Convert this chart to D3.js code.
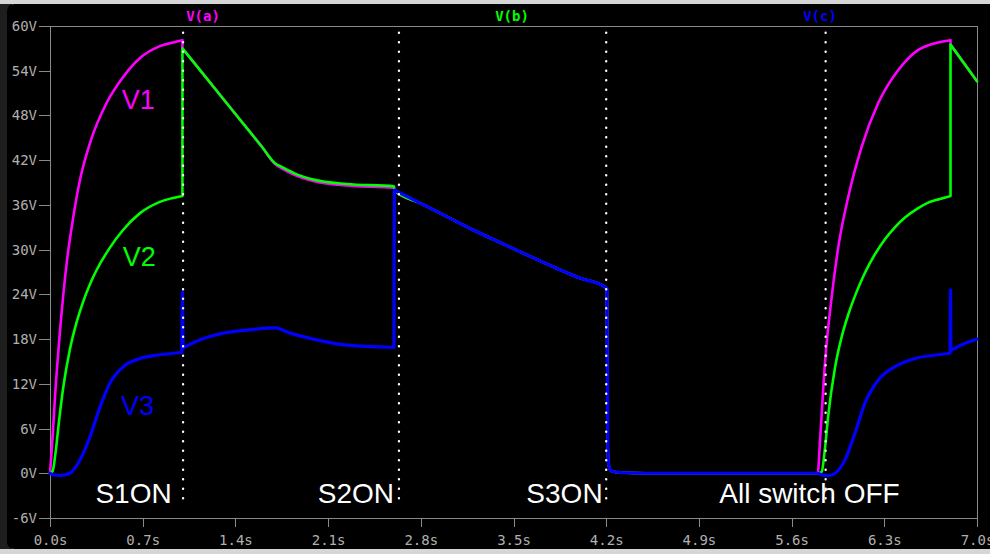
<!DOCTYPE html>
<html>
<head>
<meta charset="utf-8">
<script src="https://cdn.jsdelivr.net/npm/d3@7"></script>
<style>
  html, body { margin: 0; padding: 0; background: #d8d8d8; overflow: hidden; }
  svg { display: block; }
</style>
</head>
<body>
<svg id="chart" width="990" height="554"></svg>
<script>
// ---- Data -------------------------------------------------------------
const seriesNames = ["V(a)", "V(b)", "V(c)"];
const curveLabels = ["V1", "V2", "V3"];

const xTickValues = [0, 0.7, 1.4, 2.1, 2.8, 3.5, 4.2, 4.9, 5.6, 6.3, 7.0];
const xTickLabels = ["0.0s", "0.7s", "1.4s", "2.1s", "2.8s", "3.5s", "4.2s", "4.9s", "5.6s", "6.3s", "7.0s"];
const yTickValues = [-6, 0, 6, 12, 18, 24, 30, 36, 42, 48, 54, 60];
const yTickLabels = ["-6V", "0V", "6V", "12V", "18V", "24V", "30V", "36V", "42V", "48V", "54V", "60V"];

// switching events (s) and their captions
const switchTimes = [1.005, 2.635, 4.2, 5.857];
const switchLabels = ["S1ON", "S2ON", "S3ON", "All switch OFF"];

// segment shared by all three nodes once S2 closes (time s, volts)
const sharedTime = [2.6, 2.8, 3.0, 3.2, 3.4, 3.6, 3.8, 4.0, 4.19, 4.205, 4.212, 4.22, 4.24, 4.3, 4.5, 5.797];
const sharedVolt = [38.0, 36.2, 34.4, 32.6, 30.95, 29.3, 27.7, 26.2, 25.0, 24.7, 3.0, 1.0, 0.3, 0.1, 0, 0];

// V(a)
const timeA1 = [0, 0.015, 0.038, 0.076, 0.126, 0.176, 0.227, 0.302, 0.428, 0.554, 0.68, 0.83, 0.93, 1.0,
                1.0, 1.2, 1.4, 1.6, 1.699, 1.75, 1.85, 1.988, 2.24, 2.598];
const voltA1 = [0, 3.6, 10.3, 19.2, 28.2, 34.4, 39.4, 44.3, 49.7, 53.2, 55.7, 57.3, 57.8, 58.1,
                57.0, 52.6, 48.2, 43.8, 41.5, 40.9, 40.0, 39.2, 38.6, 38.3];
const timeA2 = [5.815, 5.852, 5.903, 5.953, 6.028, 6.129, 6.255, 6.406, 6.557, 6.683, 6.8, 6.8, 7.0];
const voltA2 = [4.5, 14.8, 23.7, 30.4, 37.1, 43.8, 49.7, 54.1, 56.8, 57.7, 58.1, 57.5, 52.6];

// V(b)
const timeB1 = [0, 0.02, 0.04, 0.07, 0.1, 0.15, 0.2, 0.25, 0.3, 0.35, 0.45, 0.55, 0.68, 0.83, 1.0,
                1.0, 1.2, 1.4, 1.6, 1.699, 1.75, 1.85, 1.988, 2.24, 2.598];
const voltB1 = [0, 0.3, 2.5, 7.3, 11.5, 16.6, 20.2, 23.0, 25.3, 27.2, 30.2, 32.6, 34.9, 36.4, 37.2,
                57.0, 52.6, 48.2, 43.8, 41.6, 41.1, 40.2, 39.4, 38.8, 38.5];
const timeB2 = [5.827, 5.85, 5.877, 5.928, 5.978, 6.028, 6.09, 6.154, 6.23, 6.305, 6.38, 6.456, 6.55, 6.632, 6.72, 6.8, 6.8, 7.0];
const voltB2 = [0.2, 3.0, 7.8, 14.2, 18.3, 21.3, 24.3, 26.9, 29.4, 31.4, 33.0, 34.3, 35.5, 36.3, 36.8, 37.2, 57.5, 52.6];

// V(c)
const timeC1 = [0, 0.02, 0.076, 0.151, 0.227, 0.302, 0.378, 0.453, 0.554, 0.68, 0.83, 0.995, 1.0, 1.005,
                1.133, 1.309, 1.485, 1.699, 1.812, 1.988, 2.24, 2.597];
const voltC1 = [0, -0.2, -0.3, 0, 1.8, 4.9, 8.9, 12.1, 14.3, 15.4, 15.9, 16.2, 24.3, 16.8,
                17.9, 18.8, 19.2, 19.5, 18.8, 18.0, 17.2, 16.9];
const timeC2 = [5.83, 5.88, 5.928, 6.003, 6.079, 6.154, 6.255, 6.381, 6.532, 6.708, 6.797, 6.8, 6.803, 6.9, 7.0];
const voltC2 = [-0.25, -0.3, 0, 1.8, 5.4, 9.4, 12.5, 14.3, 15.4, 15.9, 16.1, 24.6, 16.5, 17.35, 18.0];

// ---- Helpers ----------------------------------------------------------
const zip = (ts, vs) => ts.map((t, i) => ({ t, v: vs[i] }));
const seriesData = [
  [...zip(timeA1, voltA1), ...zip(sharedTime, sharedVolt), ...zip(timeA2, voltA2)],
  [...zip(timeB1, voltB1), ...zip(sharedTime, sharedVolt), ...zip(timeB2, voltB2)],
  [...zip(timeC1, voltC1), ...zip(sharedTime, sharedVolt), ...zip(timeC2, voltC2)]
];
const seriesColors = ["#ff00ff", "#00ff00", "#0000ff"];
const seriesWidths = [2.6, 2.6, 3.2];

// ---- Layout -----------------------------------------------------------
const svg = d3.select("#chart");
const W = 990, H = 554;
const plot = { left: 50, right: 977, top: 26, bottom: 518 };

// window frame
svg.append("rect").attr("x", 0).attr("y", 0).attr("width", W).attr("height", H).attr("fill", "#d6d6d6");
svg.append("rect").attr("x", 0).attr("y", 4).attr("width", 12).attr("height", 545).attr("fill", "#1e1e1e");
svg.append("rect").attr("x", 7).attr("y", 4).attr("width", W + 10).attr("height", 545).attr("rx", 7).attr("fill", "#000");

const x = d3.scaleLinear().domain([0, 7]).range([plot.left, plot.right]);
const y = d3.scaleLinear().domain([-6, 60]).range([plot.bottom, plot.top]);

const monoFont = "'DejaVu Sans Mono', 'Liberation Mono', monospace";
const sansFont = "'Liberation Sans', Arial, 'Noto Sans', sans-serif";

// axes
const yAxis = d3.axisLeft(y)
  .tickValues(yTickValues)
  .tickFormat((d, i) => yTickLabels[i])
  .tickSize(11).tickSizeOuter(0).tickPadding(2);
const xAxis = d3.axisBottom(x)
  .tickValues(xTickValues)
  .tickFormat((d, i) => xTickLabels[i])
  .tickSize(9).tickSizeOuter(0).tickPadding(8);

const gy = svg.append("g").attr("transform", `translate(${plot.left},0)`).call(yAxis);
const gx = svg.append("g").attr("transform", `translate(0,${plot.bottom})`).call(xAxis);
[gx, gy].forEach(g => {
  g.select(".domain").remove();
  g.selectAll(".tick line").attr("stroke", "#8a8a8a").attr("shape-rendering", "crispEdges");
  g.selectAll(".tick text")
    .attr("fill", "#b0b0b0")
    .style("font-family", monoFont)
    .style("font-size", "14px");
});

// plot frame
svg.append("rect")
  .attr("x", plot.left + 0.5).attr("y", plot.top + 0.5)
  .attr("width", plot.right - plot.left).attr("height", plot.bottom - plot.top)
  .attr("fill", "none").attr("stroke", "#8a8a8a").attr("stroke-width", 1)
  .attr("shape-rendering", "crispEdges");

// trace names above the frame
const legendX = [203, 512, 820];
svg.selectAll("text.trace-name")
  .data(seriesNames)
  .join("text")
  .attr("class", "trace-name")
  .attr("x", (d, i) => legendX[i])
  .attr("y", 21)
  .attr("text-anchor", "middle")
  .attr("fill", (d, i) => seriesColors[i])
  .style("font-family", monoFont)
  .style("font-weight", "bold")
  .style("font-size", "14px")
  .text(d => d);

// traces: smooth runs between samples, straight steps where the node switches
const smooth = d3.line()
  .x(d => x(d.t))
  .y(d => y(d.v))
  .curve(d3.curveMonotoneX);

function tracePath(points) {
  const runs = [[points[0]]];
  for (let i = 1; i < points.length; i++) {
    const a = points[i - 1], b = points[i];
    const rate = Math.abs(b.v - a.v) / Math.max(b.t - a.t, 1e-9);
    if (rate > 500) runs.push([b]);
    else runs[runs.length - 1].push(b);
  }
  return runs.map((r, k) => {
    const d = r.length > 1 ? smooth(r) : `M${x(r[0].t)},${y(r[0].v)}`;
    return k === 0 ? d : "L" + d.slice(1);
  }).join("");
}

svg.append("g")
  .selectAll("path")
  .data(seriesData)
  .join("path")
  .attr("d", tracePath)
  .attr("fill", "none")
  .attr("stroke", (d, i) => seriesColors[i])
  .attr("stroke-width", (d, i) => seriesWidths[i])
  .attr("stroke-linejoin", "round")
  .attr("stroke-linecap", "round");

// curve names
const curveLabelPos = [[0.541, 48.9], [0.549, 27.8], [0.536, 7.8]];
svg.selectAll("text.curve-name")
  .data(curveLabels)
  .join("text")
  .attr("class", "curve-name")
  .attr("x", (d, i) => x(curveLabelPos[i][0]))
  .attr("y", (d, i) => y(curveLabelPos[i][1]))
  .attr("fill", (d, i) => seriesColors[i])
  .style("font-family", sansFont)
  .style("font-size", "27px")
  .text(d => d);

// switching markers
svg.append("g")
  .selectAll("line")
  .data(switchTimes)
  .join("line")
  .attr("x1", d => x(d)).attr("x2", d => x(d))
  .attr("y1", y(59.1)).attr("y2", y(-4.4))
  .attr("stroke", "#fff")
  .attr("stroke-width", 2.4)
  .attr("stroke-linecap", "round")
  .attr("stroke-dasharray", "0 9.5");

// switching captions
const captionPos = [[0.919, "end"], [2.598, "end"], [4.173, "end"], [5.735, "middle"]];
svg.selectAll("text.switch-name")
  .data(switchLabels)
  .join("text")
  .attr("class", "switch-name")
  .attr("x", (d, i) => x(captionPos[i][0]))
  .attr("y", 503)
  .attr("text-anchor", (d, i) => captionPos[i][1])
  .attr("fill", "#fff")
  .style("font-family", sansFont)
  .style("font-size", "28px")
  .text(d => d);
</script>
</body>
</html>
